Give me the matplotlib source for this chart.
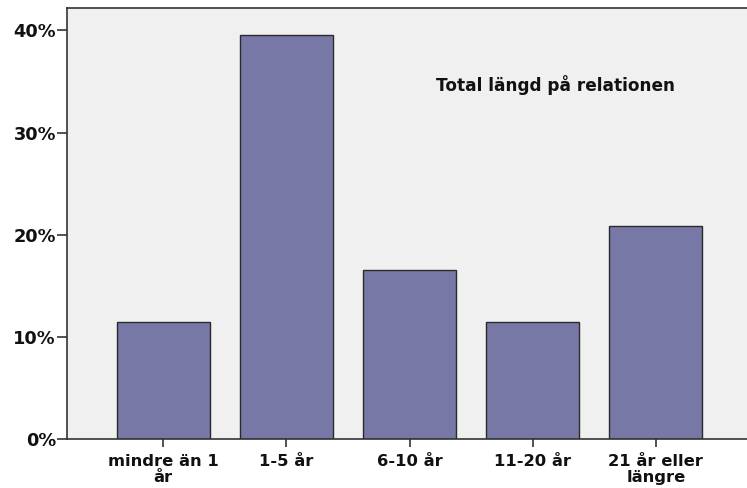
import matplotlib
matplotlib.use("Agg")
import matplotlib.pyplot as plt
from matplotlib.ticker import FuncFormatter

categories = ["mindre än 1\når", "1-5 år", "6-10 år", "11-20 år", "21 år eller\nlängre"]
percent = [11.5, 39.6, 16.5, 11.5, 20.9]
yticks = [0, 10, 20, 30, 40]
title = "Total längd på relationen"

W, H = 747, 488
fig = plt.figure(figsize=(W / 100, H / 100), dpi=100)
fig.patch.set_facecolor("white")
left, right, top, bottom = 67, 752, 8, 439
ax = fig.add_axes([left / W, 1 - bottom / H, (right - left) / W, (bottom - top) / H])
ax.set_facecolor("#f0f0f0")

x = list(range(len(categories)))
ax.bar(x, percent, width=0.756, color="#7878a6", edgecolor="#2a2a2a", linewidth=1.0, zorder=2)

ax.set_xlim(-0.78, 4.78)
ax.set_ylim(0, 42.2)
ax.set_yticks(yticks)
ax.yaxis.set_major_formatter(FuncFormatter(lambda v, p: f"{v:.0f}%"))
ax.set_xticks(x)
ax.set_xticklabels(categories, linespacing=1.08)

for lab in ax.get_xticklabels():
    lab.set_fontfamily("DejaVu Sans")
    lab.set_fontweight("bold")
    lab.set_fontsize(11.8)
    lab.set_color("#111111")
for lab in ax.get_yticklabels():
    lab.set_fontfamily("DejaVu Sans")
    lab.set_fontweight("bold")
    lab.set_fontsize(12.8)
    lab.set_color("#111111")

ax.tick_params(axis="y", length=7, width=1.2, color="#333333", pad=1)
ax.tick_params(axis="x", length=5.5, width=1.2, color="#333333", pad=5)

for s in ["left", "bottom", "top"]:
    ax.spines[s].set_color("#333333")
    ax.spines[s].set_linewidth(1.2)
ax.spines["right"].set_visible(False)

ax.text(555.5 / W, 1 - 85 / H, title, transform=fig.transFigure, ha="center", va="center",
        fontsize=12.2, fontweight="bold", fontfamily="DejaVu Sans", color="#111111")

fig.savefig("out.png", dpi=100, facecolor="white")
